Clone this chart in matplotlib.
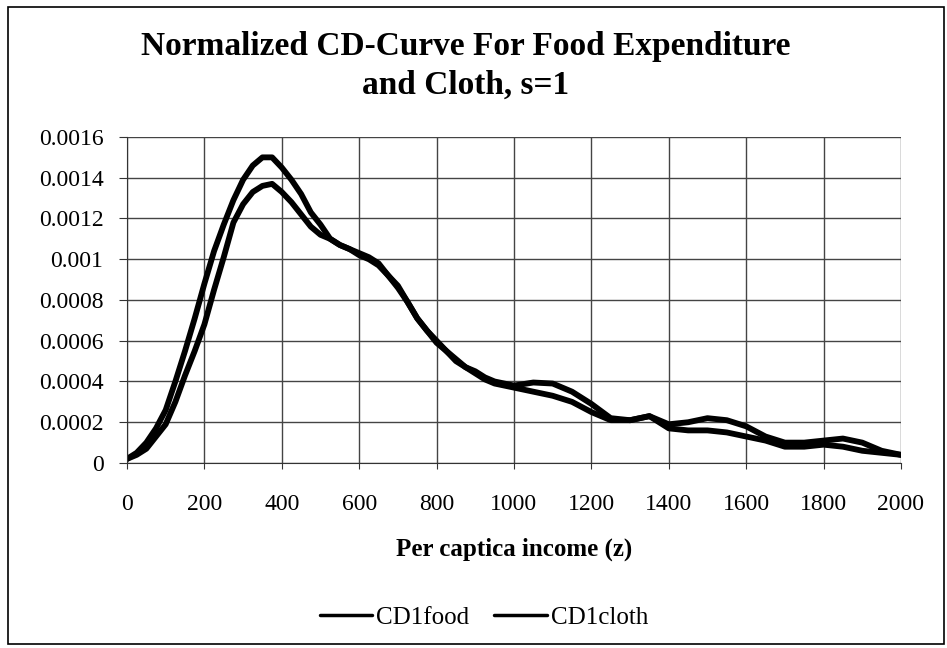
import matplotlib
matplotlib.use('Agg')
import matplotlib.pyplot as plt
from matplotlib.patches import Rectangle

plt.rcParams['font.family'] = ['Liberation Serif', 'DejaVu Serif']

# Daten
income = [0, 25, 50, 75, 100, 125, 150, 175, 200, 225, 250, 275, 300, 325, 350, 375,
          400, 425, 450, 475, 500, 525, 550, 575, 600, 625, 650, 675, 700, 725, 750,
          775, 800, 825, 850, 875, 900, 925, 950, 975, 1000,
          1050, 1100, 1150, 1200, 1250, 1300, 1350, 1400, 1450, 1500, 1550, 1600,
          1650, 1700, 1750, 1800, 1850, 1900, 1950, 2000]

cd1_food = [0.00002, 0.00005, 0.00010, 0.00017, 0.00026, 0.00040, 0.00055, 0.00071,
            0.00088, 0.00104, 0.00117, 0.00129, 0.00139, 0.00146, 0.00150, 0.00150,
            0.00145, 0.00139, 0.00132, 0.00123, 0.00117, 0.00110, 0.00107, 0.00105,
            0.00102, 0.00100, 0.00097, 0.00092, 0.00086, 0.00079, 0.00071, 0.00065,
            0.00060, 0.00055, 0.00051, 0.00047, 0.00045, 0.00042, 0.00040, 0.00039,
            0.00038,
            0.000395, 0.00039, 0.00035, 0.00029, 0.00022, 0.00021, 0.00023, 0.00019,
            0.00020, 0.00022, 0.00021, 0.00018, 0.00013, 0.00010, 0.00010, 0.00011,
            0.00012, 0.00010, 0.00006, 0.00004]

cd1_cloth = [0.00002, 0.00004, 0.00007, 0.00013, 0.00019, 0.00030, 0.00043, 0.00055,
             0.00068, 0.00085, 0.00101, 0.00118, 0.00127, 0.00133, 0.00136, 0.00137,
             0.00133, 0.00128, 0.00122, 0.00116, 0.00112, 0.00110, 0.00107, 0.00105,
             0.00103, 0.00101, 0.00098, 0.00092, 0.00087, 0.00079, 0.00071, 0.00065,
             0.00059, 0.00055, 0.00050, 0.00047, 0.00044, 0.00041, 0.00039, 0.00038,
             0.00037,
             0.00035, 0.00033, 0.00030, 0.00025, 0.00021, 0.00021, 0.00023, 0.00017,
             0.00016, 0.00016, 0.00015, 0.00013, 0.00011, 0.00008, 0.00008, 0.00009,
             0.00008, 0.00006, 0.00005, 0.00004]

x_ticks = [0, 200, 400, 600, 800, 1000, 1200, 1400, 1600, 1800, 2000]
y_ticks = [0, 0.0002, 0.0004, 0.0006, 0.0008, 0.001, 0.0012, 0.0014, 0.0016]
y_labels = ['0', '0.0002', '0.0004', '0.0006', '0.0008', '0.001', '0.0012', '0.0014', '0.0016']

fig = plt.figure(figsize=(9.47, 6.48), dpi=100)
ax = fig.add_axes([0.1341, 0.2855, 0.8173, 0.5031])

ax.plot(income, cd1_food, color='black', lw=4.2, solid_joinstyle='round',
        solid_capstyle='round', label='CD1food')
ax.plot(income, cd1_cloth, color='black', lw=4.2, solid_joinstyle='round',
        solid_capstyle='round', label='CD1cloth')

ax.set_xlim(0, 2000)
ax.set_ylim(0, 0.0016)
ax.set_xticks(x_ticks)
ax.set_yticks(y_ticks)
ax.set_yticklabels(y_labels)
ax.tick_params(labelsize=17, color='#333333', direction='out')
ax.tick_params(axis='x', length=4, pad=18.5)
ax.tick_params(axis='y', length=6, pad=11)
ax.grid(True, color='#444444', lw=1.0)
ax.set_axisbelow(True)
for side in ['top', 'right']:
    ax.spines[side].set_visible(False)
for side in ['left', 'bottom']:
    ax.spines[side].set_color('#333333')

ax.set_xlabel('Per captica income (z)', fontsize=18, fontweight='bold', labelpad=16)

fig.suptitle('Normalized CD-Curve For Food Expenditure\nand Cloth, s=1',
             fontsize=24, fontweight='bold', x=0.492, y=0.952, linespacing=1.33)

leg = fig.legend(loc='center', bbox_to_anchor=(0.511, 0.047), ncol=2, frameon=False,
                 fontsize=18, handlelength=2.1, handletextpad=0.15, columnspacing=1.0)
for line in leg.get_lines():
    line.set_linewidth(2.5)

# Rahmen um das ganze Diagramm
fig.patches.append(Rectangle((0.0085, 0.006), 0.988, 0.983, transform=fig.transFigure,
                             fill=False, edgecolor='black', lw=1.2))

fig.savefig('out.png', dpi=100)
